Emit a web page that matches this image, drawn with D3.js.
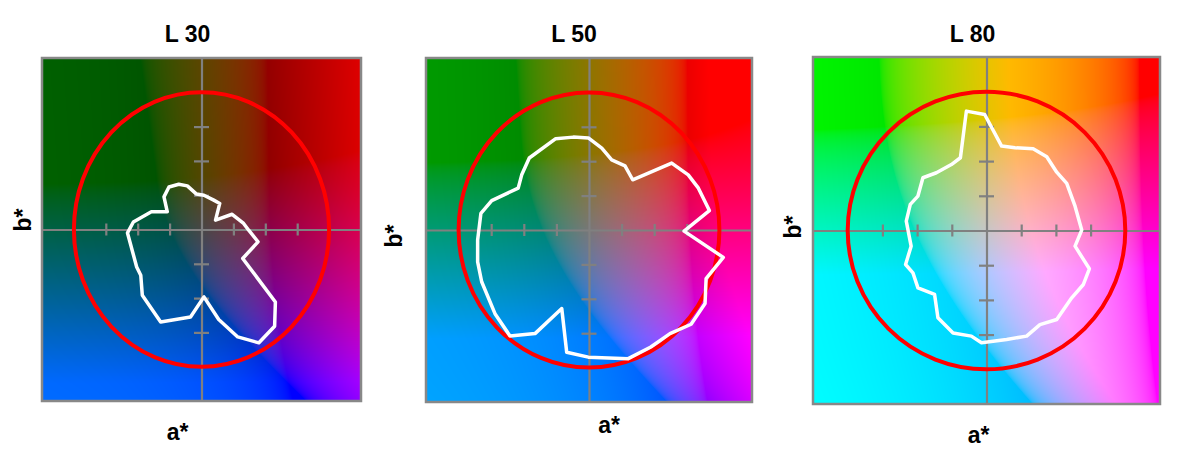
<!DOCTYPE html>
<html>
<head>
<meta charset="utf-8">
<script src="https://d3js.org/d3.v7.min.js"></script>
<style>
  body { margin: 0; background: #fff; }
  svg { display: block; font-family: "Liberation Sans", Arial, sans-serif; }
</style>
</head>
<body>
<div id="chart-area"></div>
<script>
// lightness of each slice
const lightness = [30, 50, 80];
const titles = ["L 30", "L 50", "L 80"];

// a*/b* extent, tick values and the reference circle (chroma 100)
const abDomain = [-125, 125];
const tickVals = [-75, -50, -25, 25, 50, 75];
const circleR = 100;

// gamut outlines, [a*, b*] per vertex
const gamutL30 = [
  [-25.5, 31], [-17.8, 33], [-11.1, 31.8], [-3.9, 25.8], [1.9, 25], [9.6, 21.4],
  [14.3, 19], [11, 6.8], [24, 11.1], [33, 4.4], [37, -0.5], [44.3, -9],
  [32.3, -21.1], [57.9, -52.8], [57.3, -70.5], [45, -82.6], [28.4, -78.3], [13.5, -65.6],
  [1.9, -49.1], [-8.6, -63.8], [-32, -67.4], [-46.4, -47.9], [-47.6, -33.3], [-50.8, -27.3],
  [-58, -2.5], [-53.4, 5.5], [-39.3, 12.9], [-26.8, 12.9], [-29.4, 23.8]
];
const gamutL50 = [
  [-25.5, 66.4], [-12, 67.5], [-0.5, 66.9], [9.8, 59.5], [17.4, 51], [27.6, 46.6],
  [33.5, 36.5], [63.4, 48.6], [76.1, 40.1], [83.9, 30.4], [92.3, 14.1], [72.9, -0.8],
  [103, -19.9], [89.8, -35.3], [89, -53.4], [78.3, -68.5], [62.1, -75.3], [47.4, -85],
  [30.1, -93.5], [-0.5, -92.4], [-17.1, -88.8], [-20.9, -57.1], [-41.4, -75.3], [-60.6, -77],
  [-72.1, -60.8], [-82.3, -37.6], [-85.4, -23.1], [-85.4, -7.3], [-82.9, 12.1], [-74.6, 21.4],
  [-54.3, 30.4], [-51.6, 40.1], [-45.8, 52.3]
];
const gamutL80 = [
  [-14.5, 86], [-1.3, 83.6], [10.9, 60.8], [20.5, 59.6], [33.6, 58.9], [43.4, 53.1],
  [50.6, 42], [57.8, 33.9], [63.8, 17.5], [68.6, 0.3], [63.8, -11.3], [74.1, -27.6],
  [69.8, -38.9], [61.4, -48.5], [50.6, -64.1], [38.5, -67.8], [28.9, -76.1], [14.5, -78.5],
  [-3.6, -80.9], [-10.9, -76.1], [-24.1, -73.8], [-35, -62.9], [-37.4, -46.1], [-49.4, -41.3],
  [-53, -30.5], [-58.3, -24.5], [-54.3, -11.3], [-57.8, 6.8], [-54.9, 18.8], [-49.4, 24.8],
  [-45.8, 38], [-36.1, 41.6], [-25.3, 47.5], [-18.8, 52.4]
];
const gamuts = [gamutL30, gamutL50, gamutL80];

// panel frames on the page
const frames = [
  { x0: 42, x1: 361, y0: 58, y1: 401, titleDx: -14, aDx: -24, aY: 440, bX: 23, bY: 220 },
  { x0: 426, x1: 752, y0: 58, y1: 402, titleDx: -15, aDx: 20, aY: 433, bX: 394, bY: 236 },
  { x0: 813, x1: 1160, y0: 57, y1: 404, titleDx: -14, aDx: -8, aY: 443, bX: 793, bY: 227 }
];

const svg = d3.select("#chart-area").append("svg")
  .attr("width", 1200)
  .attr("height", 463)

lightness.forEach((L, i) => {
  const f = frames[i];
  const x = d3.scaleLinear().domain(abDomain).range([f.x0, f.x1]);
  const y = d3.scaleLinear().domain(abDomain).range([f.y1, f.y0]);
  const g = svg.append("g");

  // a*b* colour plane at this lightness, clipped to sRGB
  const w = f.x1 - f.x0, h = f.y1 - f.y0;
  const canvas = document.createElement("canvas");
  canvas.width = w; canvas.height = h;
  const ctx = canvas.getContext("2d");
  const img = ctx.createImageData(w, h);
  for (let j = 0; j < h; j++) {
    const b = y.invert(f.y0 + j + 0.5);
    for (let k = 0; k < w; k++) {
      const a = x.invert(f.x0 + k + 0.5);
      const c = d3.lab(L, a, b).rgb().clamp();
      const p = (j * w + k) * 4;
      img.data[p] = c.r; img.data[p + 1] = c.g; img.data[p + 2] = c.b; img.data[p + 3] = 255;
    }
  }
  ctx.putImageData(img, 0, 0);
  g.append("image")
    .attr("x", f.x0).attr("y", f.y0)
    .attr("width", w).attr("height", h)
    .attr("preserveAspectRatio", "none")
    .attr("href", canvas.toDataURL());

  // a* axis
  const xAxis = g.append("g")
    .attr("transform", `translate(0, ${y(0)})`)
    .call(d3.axisBottom(x).tickValues(tickVals).tickSizeInner(6).tickSizeOuter(0).tickFormat(""));
  xAxis.selectAll("line").attr("y1", -6);

  // b* axis
  const yAxis = g.append("g")
    .attr("transform", `translate(${x(0)}, 0)`)
    .call(d3.axisLeft(y).tickValues(tickVals).tickSizeInner(7.5).tickSizeOuter(0).tickFormat(""));
  yAxis.selectAll("line").attr("x1", 7.5);

  g.selectAll(".domain, .tick line")
    .attr("stroke", "#808080")
    .attr("stroke-width", 2.2);

  // reference circle
  g.append("ellipse")
    .attr("cx", x(0)).attr("cy", y(0))
    .attr("rx", x(circleR) - x(0))
    .attr("ry", y(0) - y(circleR))
    .attr("fill", "none")
    .attr("stroke", "#ff0000")
    .attr("stroke-width", 4);

  // gamut outline
  g.append("path")
    .datum(gamuts[i])
    .attr("d", d3.line().x(d => x(d[0])).y(d => y(d[1])).curve(d3.curveLinearClosed))
    .attr("fill", "none")
    .attr("stroke", "#fff")
    .attr("stroke-width", 3.5)
    .attr("stroke-linejoin", "round");

  // frame
  g.append("rect")
    .attr("x", f.x0).attr("y", f.y0)
    .attr("width", w).attr("height", h)
    .attr("fill", "none")
    .attr("stroke", "#888")
    .attr("stroke-width", 2.5);

  // labels
  g.append("text")
    .attr("x", x(0) + f.titleDx)
    .attr("y", 42)
    .attr("text-anchor", "middle")
    .attr("font-size", "23px")
    .attr("font-weight", "bold")
    .text(titles[i]);

  g.append("text")
    .attr("x", x(0) + f.aDx)
    .attr("y", f.aY)
    .attr("text-anchor", "middle")
    .attr("font-size", "23px")
    .attr("font-weight", "bold")
    .text("a*");

  g.append("text")
    .attr("transform", `translate(${f.bX + 8}, ${f.bY}) rotate(-90)`)
    .attr("text-anchor", "middle")
    .attr("font-size", "23px")
    .attr("font-weight", "bold")
    .text("b*");
});
</script>
</body>
</html>
